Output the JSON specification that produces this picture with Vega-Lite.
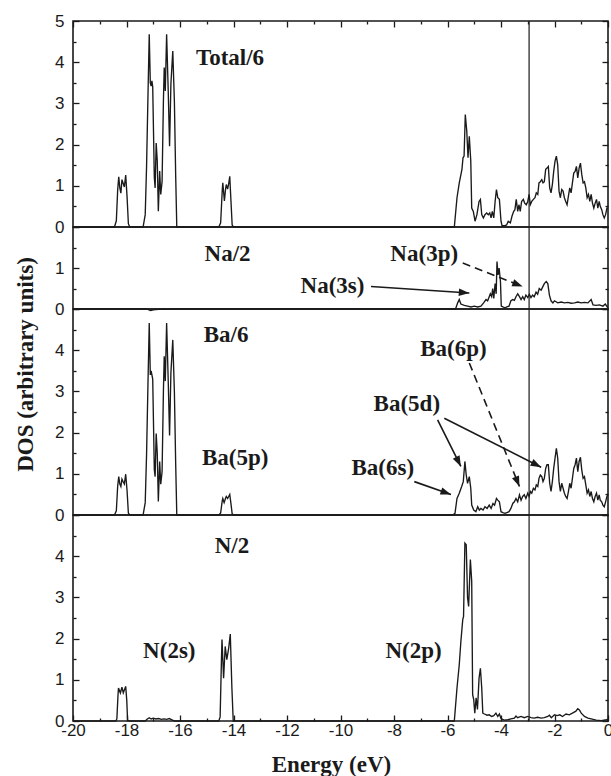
{
"$schema":"https://vega.github.io/schema/vega-lite/v6.json",
"background":"white",
"padding":{"left":13,"top":11,"right":0,"bottom":0},
"spacing":0,
"bounds":"flush",
"config":{
 "view":{"stroke":"#1a1a1a","strokeWidth":1.6},
 "axis":{"domain":false,"grid":false,"ticks":true,"tickColor":"#1a1a1a","tickWidth":1.3,"labelFont":"Liberation Sans","labelFontSize":17,"labelColor":"#1a1a1a","labelOverlap":false,"labelBound":false,"labelFlush":false,"titleFont":"Liberation Serif","titleFontWeight":"bold","titleFontSize":23,"titleColor":"#1a1a1a"},
 "line":{"color":"#1a1a1a","strokeWidth":1.35},
 "text":{"font":"Liberation Serif","fontWeight":"bold","fontSize":23,"color":"#1a1a1a"}
},
"datasets":{
"total":[{"e":-20,"v":0},{"e":-18.45,"v":0},{"e":-18.38,"v":0.15},{"e":-18.33,"v":0.9},{"e":-18.29,"v":1.22},{"e":-18.25,"v":0.95},{"e":-18.21,"v":0.82},{"e":-18.17,"v":1.15},{"e":-18.12,"v":1.05},{"e":-18.08,"v":0.97},{"e":-18.03,"v":1.26},{"e":-17.98,"v":0.75},{"e":-17.93,"v":0.08},{"e":-17.88,"v":0},{"e":-17.38,"v":0},{"e":-17.3,"v":0.3},{"e":-17.25,"v":1.47},{"e":-17.2,"v":3.1},{"e":-17.15,"v":4.68},{"e":-17.11,"v":3.5},{"e":-17.08,"v":3.42},{"e":-17.05,"v":3.55},{"e":-17.02,"v":3.4},{"e":-16.96,"v":1.2},{"e":-16.93,"v":0.95},{"e":-16.89,"v":2.04},{"e":-16.85,"v":1.6},{"e":-16.81,"v":0.38},{"e":-16.76,"v":1.36},{"e":-16.72,"v":0.79},{"e":-16.67,"v":1.1},{"e":-16.62,"v":3.06},{"e":-16.59,"v":3.87},{"e":-16.55,"v":3.3},{"e":-16.5,"v":4.68},{"e":-16.44,"v":3.3},{"e":-16.39,"v":1.96},{"e":-16.34,"v":3.47},{"e":-16.27,"v":4.27},{"e":-16.21,"v":3.06},{"e":-16.16,"v":1.2},{"e":-16.12,"v":0},{"e":-14.55,"v":0},{"e":-14.48,"v":0.1},{"e":-14.42,"v":0.9},{"e":-14.4,"v":1.07},{"e":-14.34,"v":0.63},{"e":-14.3,"v":0.9},{"e":-14.27,"v":1.03},{"e":-14.22,"v":0.92},{"e":-14.18,"v":1.05},{"e":-14.14,"v":1.23},{"e":-14.1,"v":0.7},{"e":-14.05,"v":0.05},{"e":-14.0,"v":0},{"e":-5.8,"v":0},{"e":-5.745,"v":0},{"e":-5.645,"v":0.71},{"e":-5.56,"v":1.07},{"e":-5.46,"v":1.4},{"e":-5.42,"v":1.68},{"e":-5.38,"v":1.72},{"e":-5.335,"v":2.73},{"e":-5.28,"v":2.33},{"e":-5.233,"v":1.68},{"e":-5.185,"v":2.2},{"e":-5.13,"v":1.6},{"e":-5.095,"v":0.46},{"e":-5.035,"v":0.38},{"e":-4.97,"v":0.14},{"e":-4.9,"v":0.3},{"e":-4.82,"v":0.62},{"e":-4.77,"v":0.67},{"e":-4.72,"v":0.3},{"e":-4.66,"v":0.22},{"e":-4.6,"v":0.3},{"e":-4.535,"v":0.34},{"e":-4.475,"v":0.3},{"e":-4.42,"v":0.34},{"e":-4.37,"v":0.22},{"e":-4.325,"v":0.38},{"e":-4.27,"v":0.22},{"e":-4.22,"v":0.62},{"e":-4.17,"v":0.91},{"e":-4.12,"v":0.71},{"e":-4.06,"v":0.67},{"e":-4.0,"v":0.14},{"e":-3.96,"v":0.03},{"e":-3.88,"v":0.03},{"e":-3.79,"v":0.05},{"e":-3.73,"v":0.14},{"e":-3.65,"v":0.1},{"e":-3.59,"v":0.26},{"e":-3.525,"v":0.38},{"e":-3.48,"v":0.42},{"e":-3.43,"v":0.67},{"e":-3.375,"v":0.38},{"e":-3.33,"v":0.54},{"e":-3.28,"v":0.38},{"e":-3.23,"v":0.62},{"e":-3.165,"v":0.67},{"e":-3.115,"v":0.58},{"e":-3.055,"v":0.54},{"e":-3.0,"v":0.62},{"e":-2.95,"v":0.79},{"e":-2.905,"v":0.54},{"e":-2.85,"v":0.62},{"e":-2.79,"v":0.67},{"e":-2.73,"v":0.71},{"e":-2.68,"v":0.83},{"e":-2.625,"v":0.79},{"e":-2.58,"v":1.07},{"e":-2.53,"v":1.1},{"e":-2.475,"v":1.15},{"e":-2.43,"v":1.07},{"e":-2.38,"v":1.1},{"e":-2.33,"v":1.4},{"e":-2.28,"v":1.43},{"e":-2.23,"v":1.47},{"e":-2.18,"v":0.95},{"e":-2.13,"v":0.83},{"e":-2.08,"v":1.03},{"e":-2.03,"v":1.35},{"e":-1.98,"v":1.6},{"e":-1.93,"v":1.72},{"e":-1.88,"v":1.51},{"e":-1.83,"v":0.87},{"e":-1.78,"v":0.71},{"e":-1.73,"v":0.91},{"e":-1.68,"v":0.87},{"e":-1.63,"v":0.71},{"e":-1.58,"v":0.62},{"e":-1.53,"v":0.54},{"e":-1.48,"v":0.75},{"e":-1.43,"v":0.95},{"e":-1.38,"v":0.83},{"e":-1.33,"v":1.07},{"e":-1.28,"v":1.31},{"e":-1.23,"v":1.35},{"e":-1.18,"v":1.47},{"e":-1.13,"v":1.19},{"e":-1.08,"v":1.43},{"e":-1.03,"v":1.55},{"e":-0.98,"v":1.27},{"e":-0.93,"v":1.07},{"e":-0.88,"v":1.1},{"e":-0.83,"v":0.95},{"e":-0.78,"v":0.71},{"e":-0.73,"v":0.79},{"e":-0.68,"v":0.62},{"e":-0.63,"v":0.79},{"e":-0.58,"v":0.58},{"e":-0.53,"v":0.46},{"e":-0.48,"v":0.58},{"e":-0.43,"v":0.67},{"e":-0.38,"v":0.46},{"e":-0.33,"v":0.62},{"e":-0.29,"v":0.5},{"e":-0.235,"v":0.42},{"e":-0.19,"v":0.3},{"e":-0.14,"v":0.22},{"e":-0.09,"v":0.3},{"e":-0.04,"v":0.46},{"e":0,"v":0.45}],
"na":[{"e":-20,"v":0},{"e":-17.25,"v":0},{"e":-17.1,"v":-0.04},{"e":-17.0,"v":-0.02},{"e":-16.8,"v":-0.01},{"e":-16.6,"v":0},{"e":-16.45,"v":-0.01},{"e":-16.3,"v":0},{"e":-5.7,"v":0},{"e":-5.62,"v":0.15},{"e":-5.56,"v":0.23},{"e":-5.5,"v":0.12},{"e":-5.37,"v":0.09},{"e":-5.25,"v":0.07},{"e":-5.12,"v":0.05},{"e":-5.0,"v":0.07},{"e":-4.87,"v":0.05},{"e":-4.75,"v":0.07},{"e":-4.65,"v":0.15},{"e":-4.56,"v":0.23},{"e":-4.5,"v":0.2},{"e":-4.44,"v":0.3},{"e":-4.4,"v":0.37},{"e":-4.35,"v":0.3},{"e":-4.31,"v":0.5},{"e":-4.27,"v":0.26},{"e":-4.22,"v":0.62},{"e":-4.18,"v":0.37},{"e":-4.15,"v":1.16},{"e":-4.11,"v":0.83},{"e":-4.07,"v":1.0},{"e":-4.02,"v":0.67},{"e":-3.99,"v":0.07},{"e":-3.93,"v":0.05},{"e":-3.85,"v":0.03},{"e":-3.78,"v":0.05},{"e":-3.7,"v":0.07},{"e":-3.63,"v":0.2},{"e":-3.56,"v":0.23},{"e":-3.5,"v":0.21},{"e":-3.44,"v":0.3},{"e":-3.375,"v":0.37},{"e":-3.31,"v":0.3},{"e":-3.25,"v":0.23},{"e":-3.19,"v":0.3},{"e":-3.13,"v":0.23},{"e":-3.07,"v":0.34},{"e":-3.0,"v":0.28},{"e":-2.94,"v":0.36},{"e":-2.88,"v":0.28},{"e":-2.82,"v":0.34},{"e":-2.76,"v":0.3},{"e":-2.69,"v":0.41},{"e":-2.63,"v":0.36},{"e":-2.57,"v":0.5},{"e":-2.5,"v":0.46},{"e":-2.44,"v":0.54},{"e":-2.38,"v":0.62},{"e":-2.31,"v":0.67},{"e":-2.25,"v":0.62},{"e":-2.19,"v":0.34},{"e":-2.13,"v":0.2},{"e":-2.06,"v":0.15},{"e":-2.0,"v":0.2},{"e":-1.88,"v":0.15},{"e":-1.75,"v":0.17},{"e":-1.63,"v":0.15},{"e":-1.5,"v":0.16},{"e":-1.38,"v":0.14},{"e":-1.25,"v":0.15},{"e":-1.13,"v":0.17},{"e":-1.0,"v":0.15},{"e":-0.88,"v":0.16},{"e":-0.75,"v":0.15},{"e":-0.63,"v":0.23},{"e":-0.56,"v":0.1},{"e":-0.44,"v":0.09},{"e":-0.32,"v":0.1},{"e":-0.19,"v":0.07},{"e":-0.1,"v":0.12},{"e":-0.03,"v":0.05},{"e":0,"v":0.06}],
"ba":[{"e":-20,"v":0},{"e":-18.45,"v":0},{"e":-18.38,"v":0.1},{"e":-18.33,"v":0.7},{"e":-18.29,"v":0.93},{"e":-18.25,"v":0.75},{"e":-18.21,"v":0.69},{"e":-18.17,"v":0.87},{"e":-18.12,"v":0.8},{"e":-18.08,"v":0.75},{"e":-18.03,"v":0.99},{"e":-17.98,"v":0.6},{"e":-17.93,"v":0.05},{"e":-17.88,"v":0},{"e":-17.38,"v":0},{"e":-17.3,"v":0.3},{"e":-17.25,"v":1.47},{"e":-17.2,"v":3.1},{"e":-17.15,"v":4.66},{"e":-17.11,"v":3.4},{"e":-17.08,"v":3.5},{"e":-17.05,"v":3.4},{"e":-17.02,"v":3.3},{"e":-16.96,"v":1.1},{"e":-16.93,"v":0.93},{"e":-16.89,"v":1.98},{"e":-16.85,"v":1.5},{"e":-16.81,"v":0.33},{"e":-16.76,"v":1.3},{"e":-16.72,"v":0.75},{"e":-16.67,"v":1.05},{"e":-16.62,"v":3.0},{"e":-16.59,"v":3.85},{"e":-16.55,"v":3.25},{"e":-16.5,"v":4.66},{"e":-16.44,"v":3.25},{"e":-16.39,"v":1.93},{"e":-16.34,"v":3.45},{"e":-16.27,"v":4.25},{"e":-16.21,"v":3.0},{"e":-16.16,"v":1.2},{"e":-16.12,"v":0},{"e":-14.55,"v":0},{"e":-14.48,"v":0.05},{"e":-14.42,"v":0.35},{"e":-14.4,"v":0.4},{"e":-14.35,"v":0.3},{"e":-14.3,"v":0.4},{"e":-14.27,"v":0.45},{"e":-14.22,"v":0.4},{"e":-14.18,"v":0.45},{"e":-14.14,"v":0.5},{"e":-14.1,"v":0.3},{"e":-14.05,"v":0.03},{"e":-14.0,"v":0},{"e":-5.8,"v":0},{"e":-5.72,"v":0.04},{"e":-5.645,"v":0.4},{"e":-5.56,"v":0.53},{"e":-5.47,"v":0.69},{"e":-5.41,"v":0.81},{"e":-5.35,"v":1.3},{"e":-5.3,"v":0.97},{"e":-5.25,"v":0.77},{"e":-5.185,"v":0.93},{"e":-5.13,"v":0.65},{"e":-5.095,"v":0.24},{"e":-5.02,"v":0.12},{"e":-4.94,"v":0.08},{"e":-4.87,"v":0.2},{"e":-4.81,"v":0.12},{"e":-4.75,"v":0.16},{"e":-4.67,"v":0.12},{"e":-4.6,"v":0.2},{"e":-4.52,"v":0.16},{"e":-4.44,"v":0.24},{"e":-4.37,"v":0.16},{"e":-4.3,"v":0.28},{"e":-4.24,"v":0.24},{"e":-4.17,"v":0.4},{"e":-4.12,"v":0.36},{"e":-4.06,"v":0.32},{"e":-4.0,"v":0.08},{"e":-3.93,"v":0.06},{"e":-3.85,"v":0.04},{"e":-3.78,"v":0.06},{"e":-3.7,"v":0.08},{"e":-3.63,"v":0.16},{"e":-3.56,"v":0.28},{"e":-3.5,"v":0.32},{"e":-3.44,"v":0.4},{"e":-3.375,"v":0.32},{"e":-3.31,"v":0.49},{"e":-3.25,"v":0.36},{"e":-3.19,"v":0.45},{"e":-3.13,"v":0.49},{"e":-3.07,"v":0.4},{"e":-3.0,"v":0.53},{"e":-2.95,"v":0.45},{"e":-2.9,"v":0.57},{"e":-2.85,"v":0.53},{"e":-2.79,"v":0.65},{"e":-2.73,"v":0.61},{"e":-2.68,"v":0.73},{"e":-2.625,"v":0.69},{"e":-2.58,"v":0.89},{"e":-2.53,"v":0.97},{"e":-2.475,"v":0.93},{"e":-2.43,"v":0.81},{"e":-2.38,"v":0.89},{"e":-2.33,"v":1.13},{"e":-2.28,"v":1.22},{"e":-2.23,"v":1.22},{"e":-2.18,"v":0.77},{"e":-2.13,"v":0.57},{"e":-2.08,"v":0.81},{"e":-2.03,"v":1.13},{"e":-1.98,"v":1.38},{"e":-1.93,"v":1.62},{"e":-1.88,"v":1.38},{"e":-1.83,"v":0.81},{"e":-1.78,"v":0.57},{"e":-1.73,"v":0.77},{"e":-1.68,"v":0.65},{"e":-1.63,"v":0.53},{"e":-1.58,"v":0.45},{"e":-1.53,"v":0.4},{"e":-1.48,"v":0.57},{"e":-1.43,"v":0.77},{"e":-1.38,"v":0.65},{"e":-1.33,"v":0.89},{"e":-1.28,"v":1.13},{"e":-1.23,"v":1.22},{"e":-1.18,"v":1.38},{"e":-1.13,"v":1.05},{"e":-1.08,"v":1.3},{"e":-1.03,"v":1.4},{"e":-0.98,"v":1.09},{"e":-0.93,"v":0.89},{"e":-0.88,"v":0.93},{"e":-0.83,"v":0.73},{"e":-0.78,"v":0.53},{"e":-0.73,"v":0.61},{"e":-0.68,"v":0.45},{"e":-0.63,"v":0.57},{"e":-0.58,"v":0.4},{"e":-0.53,"v":0.32},{"e":-0.48,"v":0.45},{"e":-0.43,"v":0.53},{"e":-0.38,"v":0.36},{"e":-0.33,"v":0.49},{"e":-0.29,"v":0.36},{"e":-0.235,"v":0.32},{"e":-0.19,"v":0.24},{"e":-0.14,"v":0.2},{"e":-0.09,"v":0.32},{"e":-0.04,"v":0.45},{"e":0,"v":0.5}],
"n":[{"e":-20,"v":0},{"e":-18.4,"v":0},{"e":-18.36,"v":0.05},{"e":-18.32,"v":0.6},{"e":-18.3,"v":0.8},{"e":-18.27,"v":0.75},{"e":-18.23,"v":0.68},{"e":-18.17,"v":0.82},{"e":-18.12,"v":0.68},{"e":-18.08,"v":0.75},{"e":-18.03,"v":0.84},{"e":-17.99,"v":0.5},{"e":-17.96,"v":0.02},{"e":-17.9,"v":0},{"e":-17.3,"v":0},{"e":-17.22,"v":0.05},{"e":-17.15,"v":0.08},{"e":-17.08,"v":0.05},{"e":-17.0,"v":0.07},{"e":-16.9,"v":0.05},{"e":-16.8,"v":0.06},{"e":-16.7,"v":0.04},{"e":-16.6,"v":0.05},{"e":-16.5,"v":0.04},{"e":-16.4,"v":0.06},{"e":-16.3,"v":0.03},{"e":-16.2,"v":0},{"e":-14.55,"v":0},{"e":-14.5,"v":0.1},{"e":-14.45,"v":1.5},{"e":-14.43,"v":1.98},{"e":-14.37,"v":1.04},{"e":-14.31,"v":1.81},{"e":-14.25,"v":1.49},{"e":-14.18,"v":1.77},{"e":-14.12,"v":2.11},{"e":-14.06,"v":0.8},{"e":-14.01,"v":0},{"e":-5.8,"v":0},{"e":-5.745,"v":0},{"e":-5.645,"v":0.8},{"e":-5.56,"v":1.37},{"e":-5.5,"v":1.93},{"e":-5.43,"v":2.46},{"e":-5.4,"v":2.54},{"e":-5.35,"v":4.32},{"e":-5.3,"v":4.28},{"e":-5.25,"v":2.99},{"e":-5.21,"v":2.78},{"e":-5.145,"v":3.92},{"e":-5.095,"v":3.39},{"e":-5.06,"v":0.64},{"e":-5.02,"v":0.52},{"e":-4.98,"v":0.19},{"e":-4.93,"v":0.56},{"e":-4.88,"v":0.28},{"e":-4.82,"v":1.04},{"e":-4.77,"v":1.28},{"e":-4.72,"v":0.8},{"e":-4.68,"v":0.19},{"e":-4.62,"v":0.17},{"e":-4.52,"v":0.14},{"e":-4.44,"v":0.15},{"e":-4.35,"v":0.11},{"e":-4.27,"v":0.13},{"e":-4.19,"v":0.19},{"e":-4.12,"v":0.11},{"e":-4.06,"v":0.17},{"e":-4.0,"v":0.06},{"e":-3.88,"v":0.02},{"e":-3.75,"v":0.03},{"e":-3.63,"v":0.05},{"e":-3.5,"v":0.07},{"e":-3.44,"v":0.12},{"e":-3.38,"v":0.08},{"e":-3.25,"v":0.11},{"e":-3.13,"v":0.08},{"e":-3.0,"v":0.11},{"e":-2.88,"v":0.08},{"e":-2.76,"v":0.07},{"e":-2.63,"v":0.09},{"e":-2.5,"v":0.07},{"e":-2.38,"v":0.08},{"e":-2.25,"v":0.11},{"e":-2.19,"v":0.14},{"e":-2.12,"v":0.08},{"e":-2.0,"v":0.15},{"e":-1.9,"v":0.13},{"e":-1.8,"v":0.15},{"e":-1.7,"v":0.11},{"e":-1.57,"v":0.17},{"e":-1.45,"v":0.15},{"e":-1.33,"v":0.19},{"e":-1.2,"v":0.24},{"e":-1.13,"v":0.3},{"e":-1.07,"v":0.27},{"e":-1.0,"v":0.19},{"e":-0.88,"v":0.11},{"e":-0.75,"v":0.07},{"e":-0.63,"v":0.05},{"e":-0.44,"v":0.02},{"e":-0.25,"v":0.01},{"e":-0.06,"v":0.03},{"e":0,"v":0.04}],
"fermi":[{"e":-2.95}],
"anchor":[{"e":-10,"v":1}]
},
"vconcat":[
{"width":535,"height":206,
 "resolve":{"axis":{"x":"independent","y":"independent"}},
 "layer":[
  {"data":{"name":"total"},"mark":{"type":"line"},
   "encoding":{
    "x":{"field":"e","type":"quantitative","scale":{"domain":[-20,0],"nice":false,"zero":false},
         "axis":{"orient":"top","values":[-20,-18,-16,-14,-12,-10,-8,-6,-4,-2,0],"labels":false,"title":null,"tickSize":6,"offset":-6}},
    "y":{"field":"v","type":"quantitative","scale":{"domain":[0,5],"nice":false},
         "axis":{"orient":"left","values":[0,1,2,3,4,5],"labelExpr":"toString(datum.value)","labelPadding":9,"title":null,"tickSize":6,"offset":-6}}}},
  {"data":{"name":"anchor"},"mark":{"type":"point","opacity":0},
   "encoding":{
    "x":{"field":"e","type":"quantitative","axis":{"orient":"top","values":[-19,-17,-15,-13,-11,-9,-7,-5,-3,-1],"labels":false,"title":null,"tickSize":3,"offset":-3}},
    "y":{"field":"v","type":"quantitative","axis":{"orient":"left","values":[0.5,1.5,2.5,3.5,4.5],"labels":false,"title":null,"tickSize":3,"offset":-3}}}},
  {"data":{"name":"anchor"},"mark":{"type":"point","opacity":0},
   "encoding":{
    "x":{"field":"e","type":"quantitative","axis":null},
    "y":{"field":"v","type":"quantitative","axis":{"orient":"right","values":[0.5,1.5,2.5,3.5,4.5],"labels":false,"title":null,"tickSize":3,"offset":-3}}}},
  {"data":{"name":"fermi"},"mark":{"type":"rule","color":"#1a1a1a","strokeWidth":1.2},
   "encoding":{"x":{"field":"e","type":"quantitative","axis":null}}},
  {"data":{"values":[{"e":-14.13,"v":4.09,"t":"Total/6"}]},"mark":{"type":"text"},
   "encoding":{"x":{"field":"e","type":"quantitative","axis":null},
    "y":{"field":"v","type":"quantitative","axis":{"orient":"right","values":[0,1,2,3,4,5],"labels":false,"title":null,"tickSize":6,"offset":-6}},
    "text":{"field":"t"}}}
 ]},
{"width":535,"height":82,
 "resolve":{"axis":{"x":"independent","y":"independent"}},
 "layer":[
  {"data":{"name":"na"},"mark":{"type":"line"},
   "encoding":{
    "x":{"field":"e","type":"quantitative","scale":{"domain":[-20,0],"nice":false,"zero":false},"axis":null},
    "y":{"field":"v","type":"quantitative","scale":{"domain":[0,2],"nice":false},
         "axis":{"orient":"left","values":[0,1,2],"labelExpr":"datum.value < 2 ? toString(datum.value) : ''","labelPadding":9,"title":null,"tickSize":6,"offset":-6}}}},
  {"data":{"name":"anchor"},"mark":{"type":"point","opacity":0},
   "encoding":{
    "x":{"field":"e","type":"quantitative","axis":null},
    "y":{"field":"v","type":"quantitative","axis":{"orient":"left","values":[0.5,1.5],"labels":false,"title":null,"tickSize":3,"offset":-3}}}},
  {"data":{"name":"anchor"},"mark":{"type":"point","opacity":0},
   "encoding":{
    "x":{"field":"e","type":"quantitative","axis":null},
    "y":{"field":"v","type":"quantitative","axis":{"orient":"right","values":[0.5,1.5],"labels":false,"title":null,"tickSize":3,"offset":-3}}}},
  {"data":{"name":"fermi"},"mark":{"type":"rule","color":"#1a1a1a","strokeWidth":1.2},
   "encoding":{"x":{"field":"e","type":"quantitative","axis":null}}},
  {"data":{"values":[{"e":-14.22,"v":1.35,"t":"Na/2"},{"e":-6.87,"v":1.33,"t":"Na(3p)"},{"e":-10.3,"v":0.57,"t":"Na(3s)"}]},"mark":{"type":"text"},
   "encoding":{"x":{"field":"e","type":"quantitative","axis":null},
    "y":{"field":"v","type":"quantitative","axis":{"orient":"right","values":[0,1,2],"labels":false,"title":null,"tickSize":6,"offset":-6}},
    "text":{"field":"t"}}},
  {"data":{"values":[{"e":-8.86,"v":0.55,"e2":-5.185,"v2":0.39}]},
   "layer":[
    {"mark":{"type":"rule","color":"#1a1a1a","strokeWidth":1.6},
     "encoding":{"x":{"field":"e","type":"quantitative","axis":null},"y":{"field":"v","type":"quantitative","axis":null},"x2":{"field":"e2"},"y2":{"field":"v2"}}},
    {"mark":{"type":"point","shape":"M0,0L-1,-0.36L-1,0.36Z","filled":true,"opacity":1,"size":440,"angle":3.9,"color":"#1a1a1a","strokeWidth":0},
     "encoding":{"x":{"field":"e2","type":"quantitative","axis":null},"y":{"field":"v2","type":"quantitative","axis":null}}}
   ]},
  {"data":{"values":[{"e":-5.43,"v":1.12,"e2":-3.19,"v2":0.55}]},
   "layer":[
    {"mark":{"type":"rule","color":"#1a1a1a","strokeWidth":1.6,"strokeDash":[8,5]},
     "encoding":{"x":{"field":"e","type":"quantitative","axis":null},"y":{"field":"v","type":"quantitative","axis":null},"x2":{"field":"e2"},"y2":{"field":"v2"}}},
    {"mark":{"type":"point","shape":"M0,0L-1,-0.36L-1,0.36Z","filled":true,"opacity":1,"size":440,"angle":21.2,"color":"#1a1a1a","strokeWidth":0},
     "encoding":{"x":{"field":"e2","type":"quantitative","axis":null},"y":{"field":"v2","type":"quantitative","axis":null}}}
   ]}
 ]},
{"width":535,"height":206,
 "resolve":{"axis":{"x":"independent","y":"independent"}},
 "layer":[
  {"data":{"name":"ba"},"mark":{"type":"line"},
   "encoding":{
    "x":{"field":"e","type":"quantitative","scale":{"domain":[-20,0],"nice":false,"zero":false},"axis":null},
    "y":{"field":"v","type":"quantitative","scale":{"domain":[0,5],"nice":false},
         "axis":{"orient":"left","values":[0,1,2,3,4,5],"labelExpr":"datum.value < 5 ? toString(datum.value) : ''","labelPadding":9,"tickSize":6,"offset":-6,
                 "title":"DOS (arbitrary units)","titleX":-47,"titleY":55,"titleAngle":-90,"titleAlign":"center","titleBaseline":"alphabetic"}}}},
  {"data":{"name":"anchor"},"mark":{"type":"point","opacity":0},
   "encoding":{
    "x":{"field":"e","type":"quantitative","axis":null},
    "y":{"field":"v","type":"quantitative","axis":{"orient":"left","values":[0.5,1.5,2.5,3.5,4.5],"labels":false,"title":null,"tickSize":3,"offset":-3}}}},
  {"data":{"name":"anchor"},"mark":{"type":"point","opacity":0},
   "encoding":{
    "x":{"field":"e","type":"quantitative","axis":null},
    "y":{"field":"v","type":"quantitative","axis":{"orient":"right","values":[0.5,1.5,2.5,3.5,4.5],"labels":false,"title":null,"tickSize":3,"offset":-3}}}},
  {"data":{"name":"fermi"},"mark":{"type":"rule","color":"#1a1a1a","strokeWidth":1.2},
   "encoding":{"x":{"field":"e","type":"quantitative","axis":null}}},
  {"data":{"values":[{"e":-14.28,"v":4.36,"t":"Ba/6"},{"e":-13.94,"v":1.39,"t":"Ba(5p)"},{"e":-5.78,"v":4.02,"t":"Ba(6p)"},{"e":-7.52,"v":2.7,"t":"Ba(5d)"},{"e":-8.42,"v":1.15,"t":"Ba(6s)"}]},"mark":{"type":"text"},
   "encoding":{"x":{"field":"e","type":"quantitative","axis":null},
    "y":{"field":"v","type":"quantitative","axis":{"orient":"right","values":[0,1,2,3,4,5],"labels":false,"title":null,"tickSize":6,"offset":-6}},
    "text":{"field":"t"}}},
  {"data":{"values":[{"e":-5.185,"v":3.69,"e2":-3.31,"v2":0.69}]},
   "layer":[
    {"mark":{"type":"rule","color":"#1a1a1a","strokeWidth":1.6,"strokeDash":[8,5]},
     "encoding":{"x":{"field":"e","type":"quantitative","axis":null},"y":{"field":"v","type":"quantitative","axis":null},"x2":{"field":"e2"},"y2":{"field":"v2"}}},
    {"mark":{"type":"point","shape":"M0,0L-1,-0.36L-1,0.36Z","filled":true,"opacity":1,"size":440,"angle":67.9,"color":"#1a1a1a","strokeWidth":0},
     "encoding":{"x":{"field":"e2","type":"quantitative","axis":null},"y":{"field":"v2","type":"quantitative","axis":null}}}
   ]},
  {"data":{"values":[{"e":-6.37,"v":2.31,"e2":-5.5,"v2":1.18}]},
   "layer":[
    {"mark":{"type":"rule","color":"#1a1a1a","strokeWidth":1.6},
     "encoding":{"x":{"field":"e","type":"quantitative","axis":null},"y":{"field":"v","type":"quantitative","axis":null},"x2":{"field":"e2"},"y2":{"field":"v2"}}},
    {"mark":{"type":"point","shape":"M0,0L-1,-0.36L-1,0.36Z","filled":true,"opacity":1,"size":440,"angle":63.5,"color":"#1a1a1a","strokeWidth":0},
     "encoding":{"x":{"field":"e2","type":"quantitative","axis":null},"y":{"field":"v2","type":"quantitative","axis":null}}}
   ]},
  {"data":{"values":[{"e":-6.12,"v":2.35,"e2":-2.5,"v2":1.16}]},
   "layer":[
    {"mark":{"type":"rule","color":"#1a1a1a","strokeWidth":1.6},
     "encoding":{"x":{"field":"e","type":"quantitative","axis":null},"y":{"field":"v","type":"quantitative","axis":null},"x2":{"field":"e2"},"y2":{"field":"v2"}}},
    {"mark":{"type":"point","shape":"M0,0L-1,-0.36L-1,0.36Z","filled":true,"opacity":1,"size":440,"angle":26.9,"color":"#1a1a1a","strokeWidth":0},
     "encoding":{"x":{"field":"e2","type":"quantitative","axis":null},"y":{"field":"v2","type":"quantitative","axis":null}}}
   ]},
  {"data":{"values":[{"e":-7.24,"v":0.81,"e2":-5.87,"v2":0.5}]},
   "layer":[
    {"mark":{"type":"rule","color":"#1a1a1a","strokeWidth":1.6},
     "encoding":{"x":{"field":"e","type":"quantitative","axis":null},"y":{"field":"v","type":"quantitative","axis":null},"x2":{"field":"e2"},"y2":{"field":"v2"}}},
    {"mark":{"type":"point","shape":"M0,0L-1,-0.36L-1,0.36Z","filled":true,"opacity":1,"size":440,"angle":19.1,"color":"#1a1a1a","strokeWidth":0},
     "encoding":{"x":{"field":"e2","type":"quantitative","axis":null},"y":{"field":"v2","type":"quantitative","axis":null}}}
   ]}
 ]},
{"width":535,"height":206,
 "resolve":{"axis":{"x":"independent","y":"independent"}},
 "layer":[
  {"data":{"name":"n"},"mark":{"type":"line"},
   "encoding":{
    "x":{"field":"e","type":"quantitative","scale":{"domain":[-20,0],"nice":false,"zero":false},
         "axis":{"orient":"bottom","values":[-20,-18,-16,-14,-12,-10,-8,-6,-4,-2,0],"labelExpr":"toString(datum.value)","labelPadding":1,"tickSize":6,"offset":-6,
                 "title":"Energy (eV)","titleX":258,"titleY":56,"titleAlign":"center","titleBaseline":"alphabetic"}},
    "y":{"field":"v","type":"quantitative","scale":{"domain":[0,5],"nice":false},
         "axis":{"orient":"left","values":[0,1,2,3,4,5],"labelExpr":"datum.value < 5 ? toString(datum.value) : ''","labelPadding":9,"title":null,"tickSize":6,"offset":-6}}}},
  {"data":{"name":"anchor"},"mark":{"type":"point","opacity":0},
   "encoding":{
    "x":{"field":"e","type":"quantitative","axis":{"orient":"bottom","values":[-19,-17,-15,-13,-11,-9,-7,-5,-3,-1],"labels":false,"title":null,"tickSize":3,"offset":-3}},
    "y":{"field":"v","type":"quantitative","axis":{"orient":"left","values":[0.5,1.5,2.5,3.5,4.5],"labels":false,"title":null,"tickSize":3,"offset":-3}}}},
  {"data":{"name":"anchor"},"mark":{"type":"point","opacity":0},
   "encoding":{
    "x":{"field":"e","type":"quantitative","axis":null},
    "y":{"field":"v","type":"quantitative","axis":{"orient":"right","values":[0.5,1.5,2.5,3.5,4.5],"labels":false,"title":null,"tickSize":3,"offset":-3}}}},
  {"data":{"name":"fermi"},"mark":{"type":"rule","color":"#1a1a1a","strokeWidth":1.2},
   "encoding":{"x":{"field":"e","type":"quantitative","axis":null}}},
  {"data":{"values":[{"e":-14.06,"v":4.24,"t":"N/2"},{"e":-16.4,"v":1.69,"t":"N(2s)"},{"e":-7.27,"v":1.7,"t":"N(2p)"}]},"mark":{"type":"text"},
   "encoding":{"x":{"field":"e","type":"quantitative","axis":null},
    "y":{"field":"v","type":"quantitative","axis":{"orient":"right","values":[0,1,2,3,4,5],"labels":false,"title":null,"tickSize":6,"offset":-6}},
    "text":{"field":"t"}}}
 ]}
]
}
